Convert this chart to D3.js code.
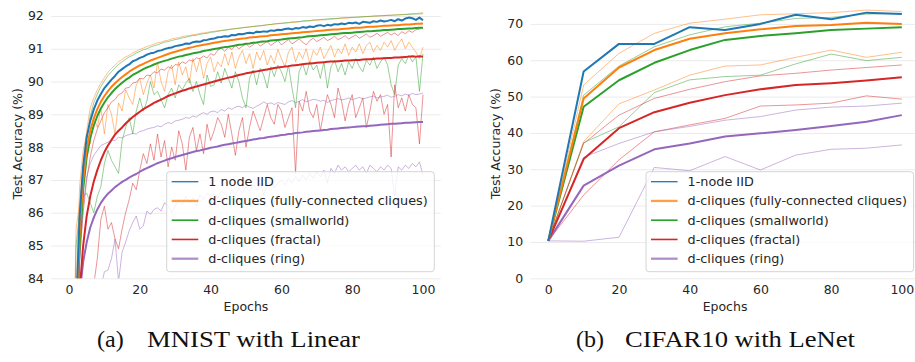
<!DOCTYPE html>
<html>
<head>
<meta charset="utf-8">
<script src="https://cdnjs.cloudflare.com/ajax/libs/d3/7.8.5/d3.min.js"></script>
<style>
  body { margin: 0; background: #fff; }
  svg { display: block; font-family: "DejaVu Sans", sans-serif; }
</style>
</head>
<body>
<svg id="chart" width="915" height="362"></svg>
<script>
// ---- (a) MNIST with Linear : one value per epoch 1..100 ----
const mnistEpochs = d3.range(1, 101);
const mnistIid = [78.0,83.0,85.9,87.4,88.3,88.8,89.15,89.42,89.62,89.8,
  89.93,90.06,90.17,90.3,90.38,90.46,90.52,90.62,90.66,90.72,
  90.76,90.82,90.86,90.88,90.93,90.95,90.99,91.02,91.04,91.08,
  91.1,91.12,91.16,91.15,91.2,91.22,91.21,91.26,91.27,91.3,
  91.31,91.35,91.36,91.38,91.37,91.42,91.41,91.45,91.44,91.47,
  91.49,91.47,91.52,91.51,91.53,91.52,91.56,91.55,91.58,91.57,
  91.6,91.62,91.59,91.63,91.62,91.66,91.64,91.68,91.66,91.7,
  91.72,91.69,91.73,91.71,91.75,91.74,91.77,91.75,91.79,91.78,
  91.8,91.76,91.82,91.81,91.79,91.84,91.82,91.86,91.83,91.85,
  91.88,91.84,91.9,91.86,91.92,91.95,91.93,91.88,91.95,91.87];
const mnistFc = [77.5,82.3,85.4,87.0,87.95,88.5,88.88,89.16,89.38,89.56,
  89.71,89.84,89.95,90.05,90.14,90.22,90.3,90.37,90.43,90.49,
  90.54,90.59,90.64,90.68,90.72,90.76,90.8,90.84,90.88,90.91,
  90.94,90.97,91.0,91.03,91.05,91.08,91.1,91.12,91.14,91.16,
  91.18,91.2,91.22,91.24,91.25,91.27,91.28,91.3,91.31,91.32,
  91.34,91.35,91.36,91.37,91.38,91.39,91.41,91.42,91.43,91.44,
  91.45,91.46,91.47,91.48,91.49,91.5,91.51,91.52,91.53,91.54,
  91.55,91.56,91.57,91.58,91.59,91.59,91.6,91.61,91.62,91.63,
  91.64,91.64,91.65,91.66,91.67,91.67,91.68,91.69,91.7,91.7,
  91.71,91.72,91.72,91.73,91.74,91.74,91.75,91.76,91.76,91.77];
const mnistSw = [77.0,81.8,85.0,86.7,87.7,88.28,88.66,88.95,89.18,89.36,
  89.52,89.65,89.77,89.87,89.96,90.05,90.12,90.2,90.26,90.32,
  90.38,90.43,90.47,90.52,90.56,90.6,90.63,90.66,90.7,90.73,
  90.76,90.78,90.81,90.83,90.86,90.88,90.9,90.93,90.95,90.97,
  90.99,91.01,91.03,91.05,91.06,91.08,91.1,91.12,91.13,91.15,
  91.16,91.18,91.19,91.21,91.22,91.23,91.25,91.26,91.27,91.28,
  91.3,91.31,91.32,91.33,91.34,91.35,91.37,91.38,91.39,91.4,
  91.41,91.42,91.43,91.44,91.45,91.46,91.47,91.48,91.48,91.49,
  91.5,91.51,91.52,91.53,91.53,91.54,91.55,91.56,91.57,91.57,
  91.58,91.59,91.6,91.6,91.61,91.62,91.62,91.63,91.64,91.64];
const mnistFractal = [74,79.5,83.6,85.0,85.9,86.5,86.95,87.3,87.6,87.85,
  88.05,88.22,88.38,88.5,88.6,88.72,88.82,88.92,89.0,89.08,
  89.16,89.22,89.28,89.35,89.4,89.45,89.5,89.56,89.6,89.64,
  89.68,89.72,89.75,89.79,89.82,89.85,89.88,89.91,89.94,89.97,
  90.0,90.03,90.06,90.09,90.12,90.14,90.17,90.2,90.22,90.25,
  90.27,90.29,90.31,90.33,90.35,90.37,90.39,90.41,90.43,90.44,
  90.46,90.47,90.49,90.5,90.51,90.53,90.54,90.55,90.56,90.57,
  90.58,90.59,90.6,90.61,90.61,90.62,90.63,90.64,90.64,90.65,
  90.66,90.66,90.67,90.68,90.68,90.69,90.7,90.7,90.71,90.72,
  90.72,90.73,90.73,90.74,90.75,90.76,90.77,90.76,90.77,90.76];
const mnistRing = [72,78,83.5,84.5,85.1,85.55,85.85,86.1,86.3,86.45,
  86.58,86.68,86.78,86.86,86.94,87.0,87.07,87.13,87.18,87.25,
  87.31,87.36,87.41,87.46,87.51,87.55,87.59,87.63,87.66,87.7,
  87.73,87.76,87.79,87.82,87.85,87.88,87.9,87.93,87.95,87.98,
  88.0,88.02,88.05,88.07,88.09,88.11,88.13,88.15,88.17,88.19,
  88.21,88.23,88.25,88.27,88.28,88.3,88.32,88.33,88.35,88.37,
  88.38,88.4,88.41,88.43,88.44,88.45,88.47,88.48,88.49,88.5,
  88.51,88.52,88.53,88.55,88.56,88.57,88.58,88.59,88.6,88.61,
  88.62,88.63,88.64,88.64,88.65,88.66,88.67,88.68,88.69,88.7,
  88.71,88.71,88.72,88.73,88.74,88.74,88.75,88.76,88.77,88.77];
// best / worst node of each d-cliques topology (thin lines)
const mnistFcMax = [80,85.5,86.3,87.6,88.5,89.2,89.5,89.75,89.95,90.12,
  90.28,90.4,90.5,90.6,90.68,90.75,90.8,90.87,90.92,90.98,
  91.02,91.07,91.1,91.14,91.18,91.2,91.24,91.26,91.3,91.32,
  91.34,91.37,91.39,91.4,91.43,91.44,91.47,91.48,91.5,91.52,
  91.53,91.55,91.56,91.58,91.59,91.6,91.62,91.63,91.64,91.66,
  91.67,91.68,91.69,91.7,91.72,91.73,91.74,91.75,91.76,91.77,
  91.78,91.79,91.8,91.81,91.82,91.83,91.84,91.85,91.86,91.87,
  91.88,91.88,91.89,91.9,91.91,91.92,91.93,91.93,91.94,91.95,
  91.96,91.96,91.97,91.98,91.98,91.99,92.0,92.0,92.01,92.02,
  92.02,92.03,92.04,92.04,92.05,92.06,92.08,92.07,92.09,92.1];
const mnistFcMin = [78,83.5,86.8,87.9,88.4,88.1,88.9,88.6,89.2,88.4,
  89.3,89.0,88.4,89.35,89.1,89.75,89.5,89.3,89.9,90.1,
  89.6,89.95,90.2,89.8,90.6,90.0,89.7,90.3,90.5,89.9,
  90.6,90.2,90.45,89.95,90.7,90.3,90.7,90.1,90.55,90.75,
  90.3,90.6,90.45,90.85,90.5,90.9,90.4,90.75,90.95,90.55,
  90.85,90.4,90.9,90.65,90.95,90.5,90.8,90.55,90.98,90.7,
  90.45,90.9,91.05,90.6,90.9,90.7,91.0,90.55,90.95,90.8,
  91.05,90.7,90.9,91.1,90.75,91.0,90.85,91.15,90.8,91.05,
  90.9,91.15,90.85,91.1,91.2,90.9,91.1,90.95,91.2,91.05,
  91.25,90.95,91.15,91.3,91.0,91.2,91.05,90.9,90.7,91.05];
const mnistSwMax = [79.5,85.0,86.0,87.4,88.3,88.95,89.35,89.62,89.85,90.02,
  90.18,90.3,90.42,90.52,90.6,90.68,90.75,90.8,90.87,90.92,
  90.97,91.0,91.05,91.09,91.12,91.16,91.2,91.22,91.25,91.28,
  91.3,91.33,91.35,91.38,91.4,91.41,91.44,91.46,91.47,91.5,
  91.51,91.53,91.55,91.56,91.58,91.6,91.61,91.62,91.64,91.65,
  91.66,91.68,91.69,91.7,91.71,91.73,91.74,91.76,91.77,91.78,
  91.79,91.8,91.82,91.82,91.83,91.85,91.86,91.86,91.88,91.88,
  91.89,91.9,91.91,91.92,91.92,91.93,91.94,91.95,91.95,91.96,
  91.96,91.97,91.98,91.98,91.99,92.0,92.0,92.01,92.01,92.02,
  92.02,92.03,92.03,92.04,92.04,92.05,92.05,92.06,92.06,92.07];
const mnistSwMin = [76,81,84.8,86.5,86.6,86.3,86.0,86.5,86.8,87.5,
  87.9,87.6,87.4,87.2,88.2,88.6,88.9,88.4,89.1,89.5,
  89.1,89.4,90.0,89.6,89.7,89.45,89.2,89.6,89.8,89.5,
  89.9,89.75,89.95,90.1,89.7,90.0,89.6,89.3,90.2,89.85,
  89.9,90.3,89.95,90.4,90.1,89.8,90.3,90.0,89.5,89.2,
  90.1,90.35,89.9,90.4,90.2,89.8,90.45,90.15,90.5,90.3,
  90.0,90.5,89.8,89.2,90.3,90.55,90.2,90.6,90.35,90.5,
  90.1,90.6,89.8,90.45,90.65,90.3,90.55,90.2,90.6,90.4,
  90.7,90.45,90.3,90.65,90.5,90.75,90.4,90.6,90.75,90.5,
  89.9,89.6,90.5,90.7,90.55,90.8,90.6,90.75,89.7,90.85];
const mnistFractalMax = [76,81.5,84.6,86.0,87.0,87.7,88.2,88.55,88.8,89.05,
  89.2,89.38,89.45,89.6,89.65,89.8,89.82,89.95,89.98,90.1,
  90.08,90.2,90.18,90.3,90.26,90.38,90.35,90.45,90.4,90.52,
  90.5,90.6,90.55,90.66,90.62,90.72,90.7,90.78,90.72,90.85,
  90.8,90.95,91.02,90.92,91.05,90.98,91.1,91.0,91.08,91.15,
  91.05,91.12,91.2,91.08,91.15,91.22,91.1,91.18,91.25,91.12,
  91.2,91.28,91.15,91.22,91.3,91.2,91.12,91.25,91.32,91.22,
  91.28,91.35,91.25,91.3,91.38,91.28,91.33,91.4,91.3,91.36,
  91.42,91.32,91.38,91.45,91.35,91.4,91.47,91.38,91.44,91.5,
  91.42,91.48,91.4,91.52,91.46,91.55,91.5,91.58,91.6,91.65];
const mnistFractalMin = [72,77,80,82,83,83.5,83.8,84.6,85.8,86.2,
  85.5,85.7,85.2,84.9,85.5,86.0,86.4,86.9,86.7,87.3,
  87.8,87.5,88.1,87.6,88.4,87.7,88.2,87.4,88.0,87.6,
  88.5,88.1,87.3,88.3,88.6,87.9,88.4,87.8,88.7,88.2,
  88.5,88.9,88.7,88.3,89.0,88.4,87.75,88.5,88.9,88.0,
  88.6,89.1,88.8,88.5,88.9,89.3,88.9,88.7,89.3,89.1,
  88.6,88.9,89.2,87.2,89.4,89.1,89.7,89.1,88.9,89.3,
  88.5,89.1,89.6,89.3,88.9,89.8,89.4,88.8,89.3,89.6,
  88.9,89.2,89.5,88.6,89.1,89.7,89.4,89.6,89.0,89.3,
  87.7,89.9,89.2,89.5,89.1,89.6,89.3,89.2,88.1,89.6];
const mnistRingMax = [74,80,84.5,86.2,87.1,87.5,87.75,87.9,88.05,88.1,
  88.15,88.22,88.2,88.3,88.28,88.35,88.38,88.42,88.4,88.48,
  88.5,88.55,88.58,88.6,88.65,88.62,88.7,88.75,88.72,88.8,
  88.82,88.85,88.9,88.88,88.95,88.92,89.0,89.05,89.0,89.08,
  89.1,89.05,89.15,89.1,89.2,89.15,89.22,89.25,89.2,89.28,
  89.22,89.18,89.25,89.3,89.38,89.32,89.35,89.3,89.36,89.33,
  89.3,89.38,89.42,89.35,89.4,89.45,89.38,89.42,89.46,89.44,
  89.4,89.43,89.36,89.42,89.45,89.48,89.44,89.46,89.5,89.45,
  89.48,89.52,89.47,89.5,89.53,89.56,89.5,89.53,89.55,89.58,
  89.52,89.55,89.6,89.56,89.62,89.58,89.64,89.6,89.62,89.65];
const mnistRingMin = [70,74,77,79,80.5,81.5,82.5,83.2,83.7,84.2,
  84.25,84.6,85.2,83.9,84.8,85.1,85.45,85.7,85.9,85.5,
  85.6,86.05,85.95,86.1,86.15,86.05,86.3,86.2,86.0,86.2,
  86.35,86.25,86.5,86.3,86.45,86.2,86.55,86.4,86.6,86.5,
  86.58,86.45,86.65,86.6,86.4,86.7,86.55,86.75,86.6,86.8,
  86.65,86.85,86.7,86.9,86.55,86.85,86.95,86.75,86.9,87.0,
  86.85,87.05,86.9,87.1,86.95,87.15,87.0,87.2,87.05,87.25,
  87.1,87.3,86.9,87.35,87.2,87.45,87.3,87.4,87.25,87.35,
  87.45,87.3,87.4,87.2,87.45,87.35,87.25,87.4,87.3,87.45,
  87.35,86.5,87.4,87.3,87.45,87.35,87.5,87.4,87.55,87.15];

// ---- (b) CIFAR10 with LeNet : every 10 epochs ----
const cifarEpochs = [0, 10, 20, 30, 40, 50, 60, 70, 80, 90, 100];
const cifarIid = [10.3, 56.9, 64.5, 64.5, 69.1, 68.3, 70.0, 72.5, 71.3, 73.1, 72.7];
const cifarFc = [10.3, 49.5, 58.0, 62.8, 65.9, 67.4, 68.5, 69.4, 69.7, 70.3, 70.0];
const cifarSw = [10.3, 47.2, 54.5, 59.3, 62.8, 65.6, 66.7, 67.4, 68.3, 68.7, 69.1];
const cifarFractal = [10.3, 32.8, 41.3, 45.7, 48.3, 50.4, 52.0, 53.2, 53.7, 54.4, 55.3];
const cifarRing = [10.3, 25.5, 31.0, 35.5, 37.1, 39.0, 39.9, 40.8, 41.9, 43.1, 44.9];
const cifarFcMax = [10.3, 53.2, 61.9, 67.4, 70.2, 71.3, 72.5, 72.8, 73.1, 73.8, 73.4];
const cifarFcMin = [10.3, 37.6, 48.0, 51.8, 55.9, 58.4, 58.7, 60.8, 62.8, 60.8, 62.2];
const cifarSwMax = [10.3, 50.4, 58.4, 63.7, 67.0, 69.2, 70.2, 71.5, 71.8, 72.7, 72.9];
const cifarSwMin = [10.3, 37.3, 41.7, 51.1, 54.6, 55.5, 55.9, 59.0, 61.7, 59.9, 60.8];
const cifarFractalMax = [10.3, 37.1, 44.9, 49.5, 52.0, 54.1, 55.7, 56.4, 57.3, 58.0, 58.7];
const cifarFractalMin = [10.3, 22.9, 32.6, 40.3, 42.2, 44.0, 47.4, 47.7, 48.2, 50.2, 49.3];
const cifarRingMax = [10.3, 33.3, 37.1, 40.3, 41.8, 43.5, 44.5, 46.3, 47.1, 47.4, 48.2];
const cifarRingMin = [10.3, 10.2, 11.3, 30.5, 29.6, 33.5, 29.8, 33.9, 35.5, 35.8, 36.7];

const mnistLabels = ["1 node IID", "d-cliques (fully-connected cliques)", "d-cliques (smallworld)",
  "d-cliques (fractal)", "d-cliques (ring)"];
const cifarLabels = ["1-node IID", "d-cliques (fully-connected cliques)", "d-cliques (smallworld)",
  "d-cliques (fractal)", "d-cliques (ring)"];
const mnistTicksY = [84, 85, 86, 87, 88, 89, 90, 91, 92];
const cifarTicksY = [0, 10, 20, 30, 40, 50, 60, 70];
const ticksX = [0, 20, 40, 60, 80, 100];
const colors = ["#1f77b4", "#ff7f0e", "#2ca02c", "#d62728", "#9467bd"];

const svg = d3.select("#chart");
const bottom = 278.3;
const textColor = "#262626";

function drawPanel(p) {
  const x = d3.scaleLinear().domain([-5, 105]).range([p.x0, p.x1]);
  const y = d3.scaleLinear().domain(p.yDomain).range([bottom, p.top]);
  const g = svg.append("g");

  g.append("clipPath").attr("id", p.id).append("rect")
    .attr("x", p.x0).attr("y", p.top)
    .attr("width", p.x1 - p.x0).attr("height", bottom - p.top);

  const yAxis = g.append("g").attr("transform", `translate(${p.x0},0)`)
    .call(d3.axisLeft(y).tickValues(p.yTicks).tickSize(-(p.x1 - p.x0)).tickPadding(7.5).tickFormat(d3.format("d")));
  yAxis.select(".domain").remove();
  yAxis.attr("font-size", 12.5).attr("font-family", "DejaVu Sans");
  yAxis.selectAll("line").attr("stroke", "#ebebeb").attr("stroke-width", 1);
  yAxis.selectAll("text").attr("fill", textColor);

  const xAxis = g.append("g").attr("transform", `translate(0,${bottom})`)
    .call(d3.axisBottom(x).tickValues(ticksX).tickSize(0).tickPadding(7));
  xAxis.select(".domain").remove();
  xAxis.attr("font-size", 12.5).attr("font-family", "DejaVu Sans");
  xAxis.selectAll("text").attr("fill", textColor);

  g.append("text").attr("x", (p.x0 + p.x1) / 2).attr("y", 311)
    .attr("text-anchor", "middle").attr("font-size", 12.5).attr("fill", textColor)
    .text("Epochs");
  g.append("text")
    .attr("transform", `translate(${p.yTitleX},${(bottom + p.top) / 2}) rotate(-90)`)
    .attr("text-anchor", "middle").attr("font-size", 12.5).attr("fill", textColor)
    .text("Test Accuracy (%)");

  const line = d3.line().x((d, i) => x(p.epochs[i])).y(d => y(d));
  const plot = g.append("g").attr("clip-path", `url(#${p.id})`);

  // thin min / max lines
  p.thin.forEach(([vals, ci]) => {
    plot.append("path").datum(vals)
      .attr("fill", "none").attr("stroke", colors[ci])
      .attr("stroke-width", 0.9).attr("stroke-opacity", 0.55)
      .attr("stroke-linejoin", "round")
      .attr("d", line);
  });
  // averaged lines
  p.bold.slice().reverse().forEach((vals, k) => {
    const ci = p.bold.length - 1 - k;
    plot.append("path").datum(vals)
      .attr("fill", "none").attr("stroke", colors[ci])
      .attr("stroke-width", 2).attr("stroke-linejoin", "round")
      .attr("d", line);
  });

  // legend
  const lg = g.append("g").attr("transform", `translate(${p.legendX},171.7)`);
  lg.append("rect").attr("width", 267.6).attr("height", 100).attr("rx", 3)
    .attr("fill", "#fff").attr("fill-opacity", 0.8)
    .attr("stroke", "#d4d4d4").attr("stroke-width", 1);
  const handleW = [1.3, 2.3, 1.6, 1.6, 2.3];
  const handleOp = [1, 0.75, 1, 1, 0.75];
  p.labels.forEach((lab, i) => {
    const cy = 10 + i * 19.25;
    lg.append("line").attr("x1", 5).attr("x2", 31.6).attr("y1", cy).attr("y2", cy)
      .attr("stroke", colors[i]).attr("stroke-width", handleW[i]).attr("stroke-opacity", handleOp[i]);
    lg.append("text").attr("x", 41.6).attr("y", cy).attr("dy", "0.35em")
      .attr("font-size", 12.8).attr("fill", textColor).text(lab);
  });
}

drawPanel({
  id: "clipA", x0: 51.3, x1: 440.7, top: 9.4, yDomain: [84, 92.2], yTicks: mnistTicksY,
  yTitleX: 21.5, legendX: 166.7, labels: mnistLabels, epochs: mnistEpochs,
  bold: [mnistIid, mnistFc, mnistSw, mnistFractal, mnistRing],
  thin: [[mnistFcMax, 1], [mnistFcMin, 1], [mnistSwMax, 2], [mnistSwMin, 2],
         [mnistFractalMax, 3], [mnistFractalMin, 3], [mnistRingMax, 4], [mnistRingMin, 4]]
});
drawPanel({
  id: "clipB", x0: 530.6, x1: 919.5, top: 9, yDomain: [0, 74.1], yTicks: cifarTicksY,
  yTitleX: 499.5, legendX: 646, labels: cifarLabels, epochs: cifarEpochs,
  bold: [cifarIid, cifarFc, cifarSw, cifarFractal, cifarRing],
  thin: [[cifarFcMax, 1], [cifarFcMin, 1], [cifarSwMax, 2], [cifarSwMin, 2],
         [cifarFractalMax, 3], [cifarFractalMin, 3], [cifarRingMax, 4], [cifarRingMin, 4]]
});

// sub-figure captions
const captions = [["(a)", "MNIST with Linear", 97, 147, 213], ["(b)", "CIFAR10 with LeNet", 576, 625, 230]];
captions.forEach(([tag, txt, xTag, xTxt, w]) => {
  const t = svg.append("g").attr("font-family", "'Liberation Serif', serif").attr("font-size", 24).attr("fill", "#111");
  t.append("text").attr("x", xTag).attr("y", 347).text(tag);
  t.append("text").attr("x", xTxt).attr("y", 347).attr("textLength", w).attr("lengthAdjust", "spacingAndGlyphs").text(txt);
});
</script>
</body>
</html>
